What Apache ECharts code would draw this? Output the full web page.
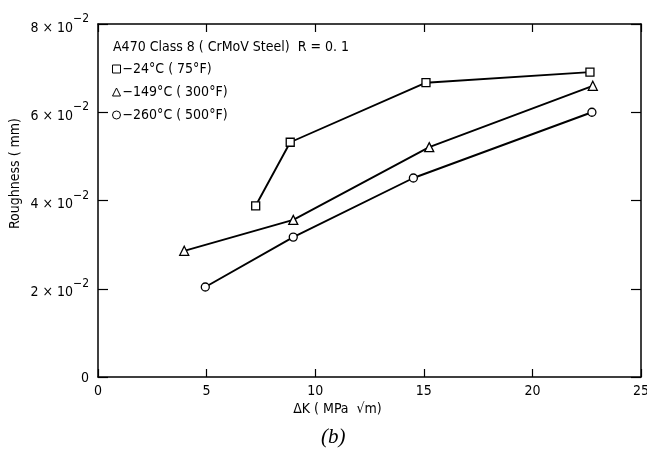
<!DOCTYPE html>
<html>
<head>
<meta charset="utf-8">
<script src="https://cdn.jsdelivr.net/npm/echarts@6/dist/echarts.min.js"></script>
<style>
  html, body { margin: 0; padding: 0; background: #fff; }
  #chart { width: 647px; height: 457px; }
</style>
</head>
<body>
<div id="chart"></div>
<script>
// roughness vs delta K, A470 class 8
var xTicks = [0, 5, 10, 15, 20, 25]
var yTickLabels = { 0: '0', 0.02: '2', 0.04: '4', 0.06: '6', 0.08: '8' }

var names = ['\u221224\u00b0C ( 75\u00b0F)', '\u2212149\u00b0C ( 300\u00b0F)', '\u2212260\u00b0C ( 500\u00b0F)']
var dk24 = [7.26, 8.85, 15.1, 22.65]
var rough24 = [0.0388, 0.0532, 0.0667, 0.0691]
var dk149 = [3.97, 8.99, 15.25, 22.78]
var rough149 = [0.0286, 0.0356, 0.0521, 0.066]
var dk260 = [4.94, 8.99, 14.52, 22.74]
var rough260 = [0.0204, 0.0317, 0.0451, 0.060]

var font = '"Liberation Sans Narrow", "DejaVu Sans Condensed", sans-serif'

function pairs(xs, ys) {
  return xs.map(function(x, i) { return [x, ys[i]] })
}

function mkSeries(name, sym, xs, ys) {
  return {
    name: name,
    type: 'line',
    symbol: sym,
    symbolSize: sym === 'triangle' ? 9 : 8,
    showSymbol: true,
    data: pairs(xs, ys),
    lineStyle: { color: '#000', width: 1.9 },
    itemStyle: { color: '#fff', borderColor: '#000', borderWidth: 1.3 },
    z: 3
  }
}

var frameAxis = {
  axisLine: { show: true, onZero: false, lineStyle: { color: '#000', width: 1.5 } },
  axisLabel: { show: false },
  splitLine: { show: false }
}

var chart = echarts.init(document.getElementById('chart'))
chart.setOption({
  animation: false,
  textStyle: { fontFamily: font },
  title: {
    text: 'A470 Class 8 ( CrMoV Steel)  R = 0. 1',
    left: 108,
    top: 35,
    textStyle: { fontSize: 14, fontWeight: 'normal', color: '#000', fontFamily: font }
  },
  legend: {
    orient: 'vertical',
    left: 107,
    top: 57,
    itemWidth: 8,
    itemHeight: 8,
    itemGap: 9,
    textStyle: { fontSize: 14, color: '#000', fontFamily: font, padding: [0, 0, 0, -3] },
    itemStyle: { color: '#fff', borderColor: '#000', borderWidth: 1 },
    data: [
      { name: names[0], icon: 'rect' },
      { name: names[1], icon: 'triangle' },
      { name: names[2], icon: 'circle' }
    ]
  },
  grid: { left: 98, right: 6, top: 24, bottom: 80, outerBoundsMode: 'none', containLabel: false },
  xAxis: [{
    type: 'value',
    min: 0, max: 25, interval: 5,
    axisLine: { onZero: false, lineStyle: { color: '#000', width: 1.5 } },
    axisTick: { inside: true, length: 8, lineStyle: { color: '#000', width: 1.2 } },
    axisLabel: { color: '#000', fontSize: 14, margin: 7 },
    splitLine: { show: false },
    name: '\u0394K ( MPa  \u221am)',
    nameLocation: 'middle',
    nameGap: 25,
    nameMoveOverlap: false,
    nameTextStyle: { color: '#000', fontSize: 14, padding: [0, 64, 0, 0] }
  }, Object.assign({
    type: 'value', position: 'top',
    min: 0, max: 25, interval: 5,
    axisTick: { show: true, inside: true, length: 8, lineStyle: { color: '#000', width: 1.2 } }
  }, frameAxis)],
  yAxis: [{
    type: 'value',
    min: 0, max: 0.08, interval: 0.02,
    axisLine: { onZero: false, lineStyle: { color: '#000', width: 1.5 } },
    axisTick: { inside: true, length: 10, lineStyle: { color: '#000', width: 1.2 } },
    axisLabel: {
      color: '#000',
      margin: 9,
      formatter: function(v) {
        var k = Math.round(v * 100) / 100
        if (k === 0) return '{a|0}'
        return '{a|' + yTickLabels[k] + ' \u00d7 10}{b|\u22122}'
      },
      rich: {
        a: { fontSize: 14, color: '#000', fontFamily: font, verticalAlign: 'bottom', lineHeight: 16 },
        b: { fontSize: 12, color: '#000', fontFamily: font, verticalAlign: 'top', padding: [0, 0, 10, 0] }
      }
    },
    splitLine: { show: false }
  }, Object.assign({
    type: 'value', position: 'right',
    min: 0, max: 0.08, interval: 0.02,
    axisTick: { show: true, inside: true, length: 10, lineStyle: { color: '#000', width: 1.2 } }
  }, frameAxis)],
  graphic: [{
    type: 'text',
    left: 8,
    top: 118,
    rotation: Math.PI / 2,
    style: { text: 'Roughness ( mm)', fontSize: 14, fill: '#000', fontFamily: font }
  }, {
    type: 'text',
    left: 321,
    top: 427,
    style: { text: '(b)', fontSize: 21, fontStyle: 'italic', fill: '#000', fontFamily: '"Liberation Serif", serif' }
  }],
  series: [
    mkSeries(names[0], 'rect', dk24, rough24),
    mkSeries(names[1], 'triangle', dk149, rough149),
    mkSeries(names[2], 'circle', dk260, rough260),
    // empty series so the top/right frame axes get drawn
    { type: 'line', xAxisIndex: 1, yAxisIndex: 1, data: [], silent: true }
  ]
})
</script>
</body>
</html>
